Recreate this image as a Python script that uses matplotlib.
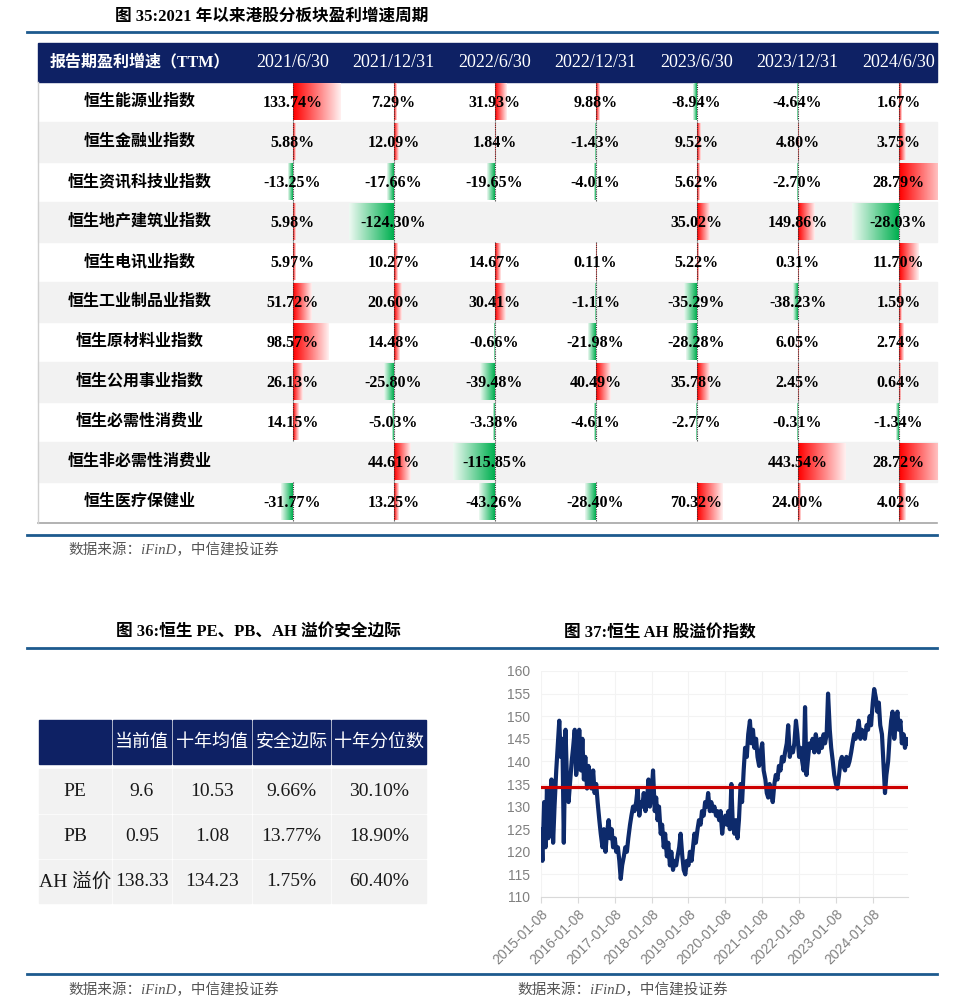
import matplotlib
matplotlib.use("Agg")
import matplotlib.pyplot as plt
from matplotlib.patches import Rectangle
from matplotlib.colors import to_rgb
import numpy as np
import pandas as pd

plt.rcParams['font.family'] = ['Liberation Serif', 'Noto Sans CJK SC']

nan = np.nan

# ---- 图35: 港股分板块盈利增速 (TTM, %)
periods = ["2021/6/30", "2021/12/31", "2022/6/30", "2022/12/31",
           "2023/6/30", "2023/12/31", "2024/6/30"]
sectors = ["恒生能源业指数", "恒生金融业指数", "恒生资讯科技业指数", "恒生地产建筑业指数",
           "恒生电讯业指数", "恒生工业制品业指数", "恒生原材料业指数", "恒生公用事业指数",
           "恒生必需性消费业", "恒生非必需性消费业", "恒生医疗保健业"]
g_2021_06 = [133.74, 5.88, -13.25, 5.98, 5.97, 51.72, 98.57, 26.13, 14.15, nan, -31.77]
g_2021_12 = [7.29, 12.09, -17.66, -124.30, 10.27, 20.60, 14.48, -25.80, -5.03, 44.61, 13.25]
g_2022_06 = [31.93, 1.84, -19.65, nan, 14.67, 30.41, -0.66, -39.48, -3.38, -115.85, -43.26]
g_2022_12 = [9.88, -1.43, -4.01, nan, 0.11, -1.11, -21.98, 40.49, -4.61, nan, -28.40]
g_2023_06 = [-8.94, 9.52, 5.62, 35.02, 5.22, -35.29, -28.28, 35.78, -2.77, nan, 70.32]
g_2023_12 = [-4.64, 4.80, -2.70, 149.86, 0.31, -38.23, 6.05, 2.45, -0.31, 443.54, 24.00]
g_2024_06 = [1.67, 3.75, 28.79, -28.03, 11.70, 1.59, 2.74, 0.64, -1.34, 28.72, 4.02]

# ---- 图36: 恒生 PE、PB、AH 溢价安全边际
t36_header = ["", "当前值", "十年均值", "安全边际", "十年分位数"]
t36_rows = ["PE", "PB", "AH 溢价"]
current_val = [9.6, 0.95, 138.33]
ten_year_avg = [10.53, 1.08, 134.23]
safety_margin = [9.66, 13.77, 1.75]
ten_year_pct = [30.10, 18.90, 60.40]

# ---- 图37: 恒生 AH 股溢价指数 (semi-monthly readings)
ah_2015 = [125, 118, 131, 121, 134, 123, 128, 136, 122, 130, 138, 143,
           149, 141, 145, 122, 147, 136, 131, 135, 140, 143, 147, 137]
ah_2016 = [140, 147, 138, 145, 136, 141, 134, 139, 137, 134, 138, 133,
           135, 131, 127, 124, 121, 125, 120, 124, 127, 123, 125, 121]
ah_2017 = [123, 120, 121, 118, 114, 117, 119, 121, 120, 123, 126, 128,
           130, 129, 131, 134, 128, 131, 130, 133, 129, 131, 136, 130]
ah_2018 = [133, 138, 129, 132, 127, 130, 124, 126, 121, 124, 119, 122,
           117, 120, 116, 118, 117, 119, 121, 124, 119, 116, 115, 118]
ah_2019 = [117, 120, 118, 121, 124, 122, 125, 127, 126, 129, 128, 131,
           130, 133, 129, 131, 129, 130, 128, 129, 127, 129, 124, 127]
ah_2020 = [128, 126, 129, 125, 135, 126, 124, 127, 123, 127, 135, 131,
           138, 143, 141, 146, 149, 144, 147, 143, 145, 141, 139, 142]
ah_2021 = [144, 138, 136, 133, 132, 135, 133, 131, 135, 137, 136, 139,
           138, 141, 140, 142, 144, 148, 141, 143, 142, 144, 149, 146]
ah_2022 = [141, 143, 140, 138, 152, 137, 141, 144, 143, 145, 142, 146,
           144, 142, 145, 143, 146, 144, 146, 155, 147, 143, 140, 137]
ah_2023 = [135, 134, 137, 140, 141, 139, 138, 141, 139, 140, 142, 144,
           146, 145, 147, 149, 145, 147, 146, 145, 148, 147, 150, 148]
ah_2024 = [153, 156, 154, 151, 153, 148, 146, 140, 133, 137, 140, 145,
           149, 151, 145, 148, 151, 147, 149, 144, 146, 143, 145, 144]
ah_years = list(range(2015, 2025))

NAVY = '#0E2164'
BLUE_RULE = '#1D5A8E'
ROW_GRAY = '#F2F2F2'
RED, RED_END = to_rgb('#FF0000'), to_rgb('#FFF0F0')
GREEN, GREEN_END = to_rgb('#00B050'), to_rgb('#EEF9F2')
SRC = "数据来源：iFinD，中信建投证券"


def data_bar(ax, cx, top, bottom, length, clip):
    ramp = np.linspace(0, 1, 64)
    if length >= 0:
        c0, c1 = np.array(RED), np.array(RED_END)
        x0, x1 = cx, cx + length
    else:
        c0, c1 = np.array(GREEN), np.array(GREEN_END)
        x0, x1 = cx + length, cx
        ramp = ramp[::-1]
    grad = c0[None, :] * (1 - ramp[:, None]) + c1[None, :] * ramp[:, None]
    im = ax.imshow(grad[None, :, :], extent=(x0, x1, bottom, top),
                   aspect='auto', interpolation='bilinear', zorder=2)
    im.set_clip_path(clip)


def main():
    fig = plt.figure(figsize=(9.6, 10.06), dpi=100)
    ax = fig.add_axes([0, 0, 1, 1])

    # ---------- figure 35 ----------
    ax.text(272, 17, "图 35:2021 年以来港股分板块盈利增速周期", ha='center', va='center',
            fontsize=12, fontweight='bold')
    ax.plot([27, 937], [32, 32], color=BLUE_RULE, lw=2)

    left, right, label_w, col_w = 38, 937, 204, 101
    head_top, head_bot, row_h = 43, 82, 40
    ax.add_patch(Rectangle((left, head_top), right - left, head_bot - head_top,
                           color=NAVY, zorder=1))
    ax.text(left + label_w / 2, (head_top + head_bot) / 2, "报告期盈利增速（TTM）",
            color='white', ha='center', va='center', fontsize=11.5, fontweight='bold')
    centers = [left + label_w + col_w * (j + 0.5) for j in range(len(periods))]
    for cx, p in zip(centers, periods):
        ax.text(cx, (head_top + head_bot) / 2, p, color='white', ha='center', va='center',
                fontsize=13)

    columns = [g_2021_06, g_2021_12, g_2022_06, g_2022_12, g_2023_06, g_2023_12, g_2024_06]
    groups = [[0, 1, 2, 3, 4], [5], [6]]
    scale = {}
    for grp in groups:
        m = max(abs(v) for j in grp for v in columns[j] if not np.isnan(v))
        for j in grp:
            scale[j] = 48 / m
    clip = Rectangle((left, 0), right - left, 1006, transform=ax.transData)

    for i, name in enumerate(sectors):
        top = head_bot + i * row_h
        bot = top + row_h
        if i % 2 == 1:
            ax.add_patch(Rectangle((left, top), right - left, row_h, color=ROW_GRAY, zorder=1))
        ax.text(left + label_w / 2, (top + bot) / 2, name, ha='center', va='center',
                fontsize=11.5, fontweight='bold')
        for j, cx in enumerate(centers):
            v = columns[j][i]
            if np.isnan(v):
                continue
            data_bar(ax, cx, top + 1, bot - 2, v * scale[j], clip)
            ax.plot([cx, cx], [top, bot], ls=(0, (1, 1)), color='#333333', lw=0.8, zorder=3)
            ax.text(cx, (top + bot) / 2 + 1, f"{v:.2f}%", ha='center', va='center',
                    fontsize=11.5, fontweight='bold', zorder=4)
    table_bot = head_bot + len(sectors) * row_h
    ax.plot([left, right], [table_bot + 1, table_bot + 1], color='#A6A6A6', lw=1.2)
    ax.plot([left, left], [head_bot, table_bot + 1], color='#D0D0D0', lw=1)
    ax.plot([27, 937], [535, 535], color=BLUE_RULE, lw=2)
    ax.text(68, 550, SRC, ha='left', va='center', fontsize=10.5, style='italic',
            color='#555555')

    # ---------- figure 36 ----------
    ax.text(258, 633, "图 36:恒生 PE、PB、AH 溢价安全边际", ha='center', va='center',
            fontsize=12, fontweight='bold')
    ax.text(660, 633, "图 37:恒生 AH 股溢价指数", ha='center', va='center',
            fontsize=12, fontweight='bold')
    ax.plot([27, 937], [648, 648], color=BLUE_RULE, lw=2)

    col_x = [39, 113, 173, 253, 332, 428]
    row_y = [720, 764, 769, 813, 815, 858, 860, 903]
    for k, h in enumerate(t36_header):
        x0, x1 = col_x[k], col_x[k + 1] - 2
        ax.add_patch(Rectangle((x0, row_y[0]), x1 - x0, row_y[1] - row_y[0], color=NAVY))
        ax.text((x0 + x1) / 2, (row_y[0] + row_y[1]) / 2, h, color='white', ha='center',
                va='center', fontsize=13, family=['Noto Sans CJK SC'])
    body = [[t36_rows[r], f"{current_val[r]:g}", f"{ten_year_avg[r]:g}",
             f"{safety_margin[r]:.2f}%", f"{ten_year_pct[r]:.2f}%"] for r in range(3)]
    for r, cells in enumerate(body):
        y0, y1 = row_y[2 + 2 * r], row_y[3 + 2 * r]
        for k, s in enumerate(cells):
            x0, x1 = col_x[k], col_x[k + 1] - 2
            ax.add_patch(Rectangle((x0, y0), x1 - x0, y1 - y0, color=ROW_GRAY))
            ax.text((x0 + x1) / 2, (y0 + y1) / 2, s, color='#1A1A1A', ha='center',
                    va='center', fontsize=14)

    ax.plot([27, 937], [974, 974], color=BLUE_RULE, lw=2)
    ax.text(68, 990, SRC, ha='left', va='center', fontsize=10.5, style='italic',
            color='#555555')
    ax.text(517, 990, SRC, ha='left', va='center', fontsize=10.5, style='italic',
            color='#555555')

    ax.set_xlim(0, 960)
    ax.set_ylim(1006, 0)
    ax.set_aspect('auto')
    ax.axis('off')

    # ---------- figure 37 ----------
    ah_values = ah_2015 + ah_2016 + ah_2017 + ah_2018 + ah_2019 + ah_2020 + \
        ah_2021 + ah_2022 + ah_2023 + ah_2024
    ah_dates = [pd.Timestamp(y, m, d) for y in ah_years for m in range(1, 13) for d in (8, 22)]

    ax2 = fig.add_axes([541 / 960, 1 - 897 / 1006, 367 / 960, 226 / 1006])
    ax2.plot(ah_dates, ah_values, color='#0D2A6B', lw=3, solid_joinstyle='round', zorder=3)
    ax2.axhline(ten_year_avg[2], color='#CC0000', lw=2.3, zorder=4)
    ax2.set_ylim(110, 160)
    ax2.set_yticks(range(110, 161, 5))
    ax2.set_xlim(pd.Timestamp('2015-01-08'), pd.Timestamp('2024-12-22'))
    ticks = [pd.Timestamp(y, 1, 8) for y in ah_years]
    ax2.set_xticks(ticks)
    ax2.set_xticklabels([t.strftime('%Y-%m-%d') for t in ticks], rotation=45, ha='right',
                        rotation_mode='anchor', family=['Liberation Sans'], fontsize=10,
                        color='#808080')
    for lab in ax2.get_yticklabels():
        lab.set_family(['Liberation Sans'])
        lab.set_fontsize(10)
        lab.set_color('#808080')
    ax2.tick_params(axis='y', length=0, pad=8)
    ax2.tick_params(axis='x', length=4, color='#D9D9D9', pad=3)
    for s in ['top', 'right', 'left']:
        ax2.spines[s].set_visible(False)
    ax2.spines['bottom'].set_color('#D9D9D9')
    ax2.grid(True, color='#F3F3F3', lw=0.8)
    ax2.set_axisbelow(True)
    ax2.patch.set_alpha(0)

    fig.savefig("out.png", dpi=100)


if __name__ == "__main__":
    main()
